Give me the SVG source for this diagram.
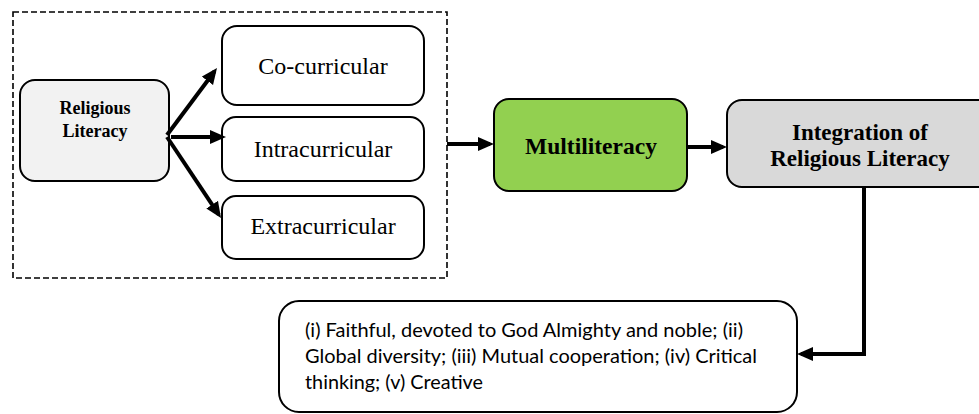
<svg xmlns="http://www.w3.org/2000/svg" width="979" height="414" viewBox="0 0 979 414">
<style>
.box{stroke:#000;stroke-width:2}
.conn{stroke:#000;stroke-width:4;fill:none}
.serif{font-family:"Liberation Serif","Times New Roman",serif;fill:#000}
.b{font-weight:bold}
.sans{font-family:Lato,"Open Sans","Liberation Sans",sans-serif;fill:#000;font-size:19px}
</style>
<defs>
<marker id="ah" markerUnits="userSpaceOnUse" markerWidth="17" markerHeight="15" viewBox="0 0 17 15" refX="12" refY="7.5" orient="auto">
<path d="M0,0.5 L16,7.5 L0,14.5 Z" fill="#000"/>
</marker>
</defs>
<rect x="13" y="12" width="434" height="266" fill="none" stroke="#000" stroke-width="1.6" stroke-dasharray="6,3"/>
<g id="religious-literacy">
<rect class="box" x="20" y="80" width="149" height="101" rx="15" fill="#f2f2f2"/>
<text class="serif b" x="95" y="114" font-size="18" text-anchor="middle">Religious</text>
<text class="serif b" x="95" y="137" font-size="18" text-anchor="middle">Literacy</text>
</g>
<g id="co-curricular">
<rect class="box" x="222" y="26" width="202" height="79" rx="15" fill="#fff"/>
<text class="serif" x="323" y="74" font-size="24" text-anchor="middle">Co-curricular</text>
</g>
<g id="intracurricular">
<rect class="box" x="222" y="117" width="202" height="64" rx="14" fill="#fff"/>
<text class="serif" x="323" y="157" font-size="24" text-anchor="middle">Intracurricular</text>
</g>
<g id="extracurricular">
<rect class="box" x="222" y="196" width="202" height="63" rx="14" fill="#fff"/>
<text class="serif" x="323" y="234" font-size="24" text-anchor="middle">Extracurricular</text>
</g>
<g id="multiliteracy">
<rect class="box" x="494" y="99" width="193" height="92" rx="15" fill="#92d050"/>
<text class="serif b" x="591" y="154" font-size="23.5" text-anchor="middle">Multiliteracy</text>
</g>
<g id="integration">
<rect class="box" x="727" y="100" width="266" height="87" rx="15" fill="#d9d9d9"/>
<text class="serif b" x="860" y="140" font-size="23" text-anchor="middle">Integration of</text>
<text class="serif b" x="860" y="166" font-size="23" text-anchor="middle">Religious Literacy</text>
</g>
<g id="outcomes">
<rect class="box" x="279" y="301" width="518" height="111" rx="20" fill="#fff"/>
<text class="sans" x="305" y="337" textLength="438" lengthAdjust="spacingAndGlyphs">(i) Faithful, devoted to God Almighty and noble; (ii)</text>
<text class="sans" x="305" y="363" textLength="452" lengthAdjust="spacingAndGlyphs">Global diversity; (iii) Mutual cooperation; (iv) Critical</text>
<text class="sans" x="305" y="389" textLength="178" lengthAdjust="spacingAndGlyphs">thinking; (v) Creative</text>
</g>
<g id="connectors">
<line class="conn" x1="167" y1="135" x2="214.6" y2="71.2" marker-end="url(#ah)"/>
<line class="conn" x1="171" y1="137" x2="222" y2="137" marker-end="url(#ah)"/>
<line class="conn" x1="167" y1="137" x2="218.8" y2="214.7" marker-end="url(#ah)"/>
<line class="conn" x1="447" y1="144" x2="490" y2="144" marker-end="url(#ah)"/>
<line class="conn" x1="687" y1="147" x2="723" y2="147" marker-end="url(#ah)"/>
<polyline class="conn" points="864,187 864,354 801,354" marker-end="url(#ah)"/>
</g>
</svg>
